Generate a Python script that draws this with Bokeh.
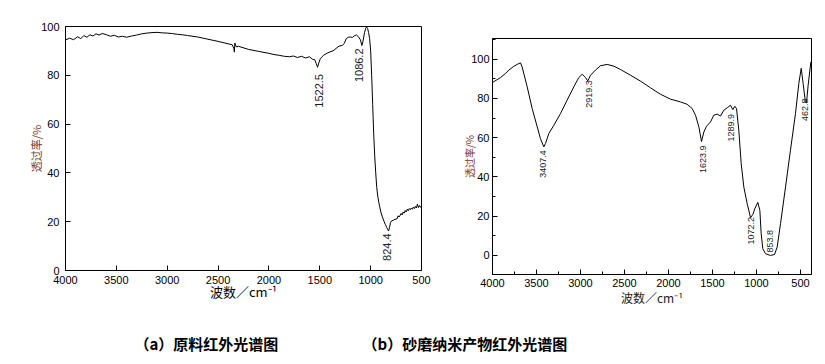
from math import pi
from bokeh.plotting import figure
from bokeh.layouts import column, row
from bokeh.models import Range1d, SingleIntervalTicker, Label, Spacer
from bokeh.core.properties import value
from bokeh.embed import file_html
from bokeh.resources import INLINE

# ---------------- data: (a) raw material IR spectrum ----------------
wn_a = [4000, 3960, 3920, 3880, 3850, 3820, 3790, 3760, 3730, 3700, 3670, 3640,
        3600, 3560, 3520, 3480, 3440, 3400, 3350, 3300, 3250, 3200, 3150, 3100,
        3050, 3000, 2950, 2900, 2850, 2800, 2700, 2600, 2500, 2400, 2360, 2345,
        2340, 2335, 2320, 2300, 2200, 2100, 2000, 1950, 1900, 1850, 1800, 1760,
        1720, 1680, 1640, 1600, 1570, 1550, 1535, 1522, 1510, 1495, 1480, 1460,
        1430, 1400, 1370, 1340, 1310, 1280, 1260, 1240, 1220, 1200, 1180, 1160,
        1140, 1120, 1100, 1086, 1075, 1060, 1048, 1040, 1030, 1020, 1010, 1000,
        990, 980, 970, 960, 950, 940, 930, 920, 900, 885, 870, 855, 840, 830,
        824, 815, 805, 795, 780, 760, 740, 730, 720, 700, 690, 680, 670, 660,
        650, 640, 630, 620, 610, 600, 590, 580, 570, 560, 550, 540, 530, 520,
        510, 500]
tr_a = [94.5, 95.2, 94.6, 95.8, 95.0, 96.3, 95.6, 96.6, 96.1, 97.0, 96.5, 97.1,
        96.7, 96.0, 96.4, 95.7, 96.0, 95.6, 96.1, 96.5, 97.0, 97.3, 97.5, 97.6,
        97.4, 97.3, 97.1, 96.8, 96.6, 96.3, 95.7, 94.8, 93.9, 92.9, 92.5, 91.0,
        89.5, 93.2, 91.6, 91.9, 90.6, 89.8, 89.0, 88.5, 88.2, 87.8, 87.6, 87.9,
        87.3, 87.8, 87.1, 87.6, 86.5, 86.4, 84.8, 83.3, 85.0, 86.8, 87.5, 88.3,
        89.0, 89.6, 90.0, 91.0, 92.0, 92.2, 93.0, 95.0, 95.6, 95.7, 95.5, 96.2,
        96.5, 95.8, 94.5, 92.2, 94.0, 97.5, 99.3, 99.8, 99.2, 97.5, 95.0, 90.0,
        80.0, 68.0, 56.0, 47.0, 40.0, 34.0, 30.5, 28.0, 24.0, 22.0, 20.3, 18.8,
        17.5, 16.7, 16.2, 17.5, 19.6, 20.3, 20.5, 21.0, 21.2, 22.4, 21.9, 23.4,
        22.8, 24.0, 23.5, 24.6, 24.0, 25.1, 24.5, 25.4, 24.9, 25.6, 25.1, 26.0,
        25.4, 26.3, 25.6, 27.2, 25.8, 26.6, 25.9, 26.5]
lab_a_text = ["1522.5", "1086.2", "824.4"]
lab_a_x = [1512, 1119, 844]
lab_a_y = [80.5, 91.0, 15.2]

# ---------------- data: (b) sand-milled nano product IR spectrum ----------------
wn_b = [4000, 3909, 3852, 3814, 3765, 3720, 3682, 3663, 3606, 3549, 3492, 3455,
        3417, 3398, 3360, 3303, 3227, 3152, 3076, 3019, 2981, 2943, 2917, 2886,
        2830, 2773, 2697, 2621, 2545, 2432, 2318, 2205, 2091, 1977, 1864, 1788,
        1731, 1693, 1655, 1625, 1598, 1568, 1523, 1485, 1447, 1409, 1371, 1333,
        1295, 1269, 1246, 1227, 1201, 1174, 1144, 1106, 1068, 1040, 1019, 985,
        962, 947, 928, 898, 841, 795, 765, 727, 670, 614, 557, 519, 492, 470,
        447, 432, 413, 382]
tr_b = [88.1, 90.6, 92.7, 94.4, 96.1, 97.3, 98.1, 96.0, 85.9, 74.8, 65.5, 59.5,
        55.3, 57.0, 62.1, 66.3, 72.3, 79.1, 85.9, 90.6, 92.3, 90.6, 88.9, 91.8,
        94.4, 96.6, 97.3, 96.4, 94.7, 91.8, 88.8, 85.4, 82.1, 79.6, 78.2, 77.0,
        74.8, 71.4, 65.5, 58.0, 62.9, 65.8, 68.0, 71.4, 72.0, 71.0, 74.0, 75.2,
        76.5, 74.3, 76.0, 74.8, 63.8, 46.8, 34.9, 26.4, 19.2, 21.0, 23.8, 27.0,
        23.0, 11.1, 3.4, 0.9, 0.0, 0.5, 4.3, 16.2, 34.9, 53.6, 72.3, 87.6, 95.3,
        87.6, 79.1, 77.6, 86.7, 98.6]
lab_b_text = ["3407.4", "2919.3", "1623.9", "1289.9", "1072.2", "853.8", "462.8"]
lab_b_x = [3424, 2905, 1606, 1295, 1068, 841, 452]
lab_b_y = [53.6, 89.3, 56.0, 72.0, 19.6, 13.0, 80.0]

captions = ["（a）原料红外光谱图", "（b）砂磨纳米产物红外光谱图"]
caption_x = [134, 362]

TICK_FONT = "Liberation Sans"
CJK = "Noto Sans CJK SC"
YLAB_COLOR = "#7a3a2c"


def style_axes(p, minor):
    for ax in (p.xaxis[0], p.yaxis[0]):
        ax.axis_line_color = "black"
        ax.major_tick_line_color = "black"
        ax.major_tick_in = 5
        ax.major_tick_out = 0
        if minor:
            ax.minor_tick_line_color = "black"
            ax.minor_tick_in = 3
            ax.minor_tick_out = 0
        else:
            ax.minor_tick_line_color = None
        ax.major_label_text_font = TICK_FONT
        ax.major_label_text_font_size = "11px"
        ax.major_label_text_color = "black"
        ax.axis_label_text_font = CJK
        ax.axis_label_text_font_style = "normal"
    p.xgrid.grid_line_color = None
    p.ygrid.grid_line_color = None
    p.outline_line_color = "black"
    p.outline_line_alpha = 1.0


# ---------------- panel (a) ----------------
p1 = figure(width=448, height=320, x_range=Range1d(4000, 500), y_range=Range1d(0, 100),
            output_backend="svg", toolbar_location=None,
            min_border_left=65, min_border_right=27, min_border_top=26, min_border_bottom=50)
p1.line(wn_a, tr_a, line_color="black", line_width=1)
p1.text(x=lab_a_x, y=lab_a_y, text=lab_a_text, angle=pi / 2, text_align="right",
        text_baseline="middle", text_font=value(TICK_FONT), text_font_size="11px",
        text_color="#1a1a2a")
p1.xaxis.ticker = SingleIntervalTicker(interval=500, num_minor_ticks=0)
p1.yaxis.ticker = SingleIntervalTicker(interval=20, num_minor_ticks=0)
style_axes(p1, minor=False)
p1.xaxis.axis_label = "波数／cm⁻¹"
p1.yaxis.axis_label = "透过率/%"
p1.xaxis.axis_label_text_font_size = "13px"
p1.xaxis.axis_label_text_color = "black"
p1.yaxis.axis_label_text_font_size = "11px"
p1.yaxis.axis_label_text_color = YLAB_COLOR
p1.xaxis.major_label_standoff = 5
p1.yaxis.major_label_standoff = 6
p1.xaxis.axis_label_standoff = -5
p1.yaxis.axis_label_standoff = -6

# ---------------- panel (b) ----------------
p2 = figure(width=369, height=312, x_range=Range1d(4000, 375), y_range=Range1d(-9.7, 110.5),
            output_backend="svg", toolbar_location=None,
            min_border_left=44, min_border_right=6, min_border_top=26, min_border_bottom=50)
p2.line(wn_b, tr_b, line_color="black", line_width=1)
p2.text(x=lab_b_x, y=lab_b_y, text=lab_b_text, angle=pi / 2, text_align="right",
        text_baseline="middle", text_font=value(TICK_FONT), text_font_size="9px",
        text_color="#1a1a2a")
p2.xaxis.ticker = SingleIntervalTicker(interval=500, num_minor_ticks=2)
p2.yaxis.ticker = SingleIntervalTicker(interval=20, num_minor_ticks=2)
style_axes(p2, minor=True)
p2.xaxis.axis_label = "波数／cm⁻¹"
p2.yaxis.axis_label = "透过率/%"
p2.xaxis.axis_label_text_font_size = "12px"
p2.xaxis.axis_label_text_color = "#222222"
p2.yaxis.axis_label_text_font_size = "10px"
p2.yaxis.axis_label_text_color = YLAB_COLOR
p2.xaxis.major_label_standoff = 4
p2.yaxis.major_label_standoff = 3
p2.xaxis.axis_label_standoff = -1
p2.yaxis.axis_label_standoff = -9

# ---------------- captions ----------------
pc = figure(width=817, height=36, x_range=Range1d(0, 817), y_range=Range1d(0, 36),
            output_backend="svg", toolbar_location=None, min_border=0)
pc.axis.visible = False
pc.xgrid.grid_line_color = None
pc.ygrid.grid_line_color = None
pc.outline_line_color = None
for txt, xpos in zip(captions, caption_x):
    pc.add_layout(Label(x=xpos, y=17, x_units="data", y_units="data", text=txt,
                        text_font=CJK, text_font_size="15px", text_font_style="bold",
                        text_color="black", text_baseline="middle", text_align="left"))

layout = column(row(p1, column(Spacer(width=369, height=12), p2)), pc)
open("out.html", "w").write(file_html(layout, INLINE))
